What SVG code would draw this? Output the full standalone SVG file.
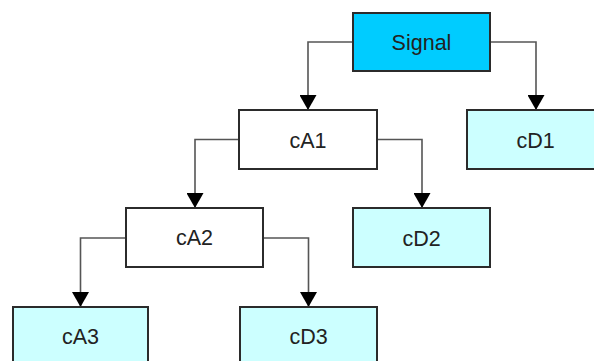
<svg xmlns="http://www.w3.org/2000/svg" width="594" height="361" viewBox="0 0 594 361">
  <style>
    .box { stroke: #2b2b2b; stroke-width: 2; }
    .approx { fill: #ffffff; }
    .detail { fill: #ccffff; }
    .root { fill: #00ccff; }
    .label { font-family: "Liberation Sans", Arial, Helvetica, sans-serif; font-size: 21.5px; fill: #222222; text-anchor: middle; }
    .edge { fill: none; stroke: #555555; stroke-width: 1.6; marker-end: url(#arrow); }
  </style>
  <defs>
    <marker id="arrow" markerUnits="userSpaceOnUse" markerWidth="15" markerHeight="17" refX="15" refY="8.5" orient="auto" viewBox="0 0 15 17">
      <path d="M0,0 L15,8.5 L0,17 Z" fill="#000000"/>
    </marker>
  </defs>

  <!-- connectors -->
  <g id="connectors">
    <path class="edge" d="M353,42 H308 V110"/>
    <path class="edge" d="M490,42 H536 V110"/>
    <path class="edge" d="M239,139.5 H195 V208"/>
    <path class="edge" d="M377,139.5 H422 V208"/>
    <path class="edge" d="M126,238 H80.5 V307"/>
    <path class="edge" d="M263,238 H308.5 V307"/>
  </g>

  <!-- nodes -->
  <g id="signal">
    <rect class="box root" x="353" y="13" width="137" height="58"/>
    <text class="label" x="421.5" y="49.5">Signal</text>
  </g>
  <g id="cA1">
    <rect class="box approx" x="239" y="110" width="138" height="59"/>
    <text class="label" x="308" y="147.5">cA1</text>
  </g>
  <g id="cD1">
    <rect class="box detail" x="467" y="110" width="137" height="59"/>
    <text class="label" x="535.5" y="147.5">cD1</text>
  </g>
  <g id="cA2">
    <rect class="box approx" x="126" y="208" width="137" height="59"/>
    <text class="label" x="194.5" y="245">cA2</text>
  </g>
  <g id="cD2">
    <rect class="box detail" x="353" y="208" width="137" height="59"/>
    <text class="label" x="421.5" y="246">cD2</text>
  </g>
  <g id="cA3">
    <rect class="box detail" x="13" y="307" width="135" height="70"/>
    <text class="label" x="80.5" y="344">cA3</text>
  </g>
  <g id="cD3">
    <rect class="box detail" x="240" y="307" width="137" height="70"/>
    <text class="label" x="308.5" y="344">cD3</text>
  </g>
</svg>
